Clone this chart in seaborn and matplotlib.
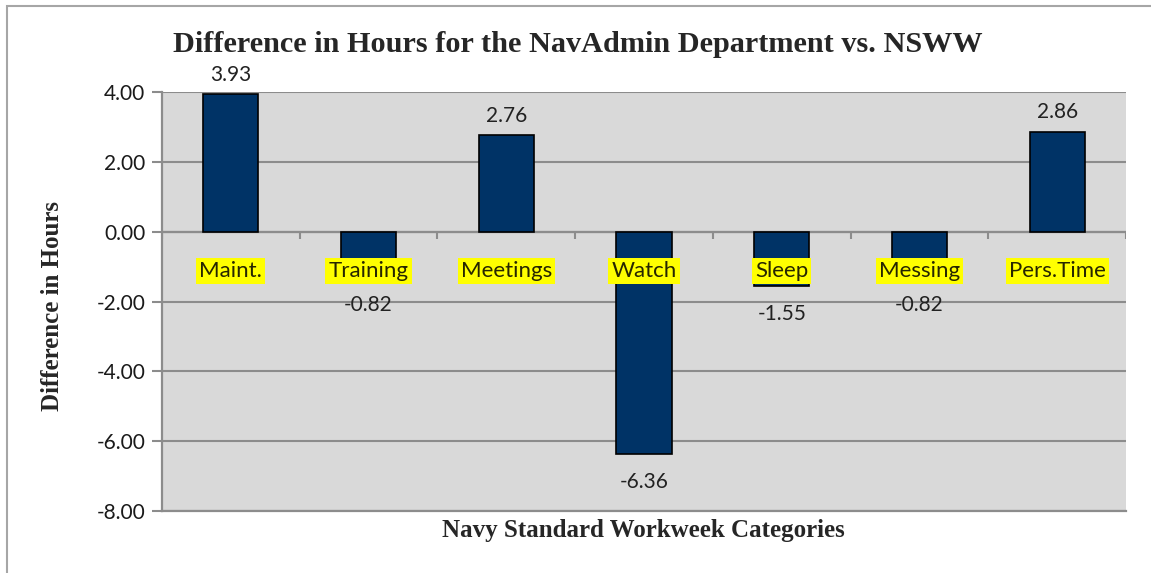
import numpy as np
import pandas as pd
import matplotlib
matplotlib.use("Agg")
import matplotlib.pyplot as plt
from matplotlib.patches import Rectangle
import seaborn as sns

categories = ['Maint.', 'Training', 'Meetings', 'Watch', 'Sleep', 'Messing', 'Pers.Time']
diff_hours = [3.93, -0.82, 2.76, -6.36, -1.55, -0.82, 2.86]
y_ticks = [4, 2, 0, -2, -4, -6, -8]

TITLE = 'Difference in Hours for the NavAdmin Department vs. NSWW'
XLABEL = 'Navy Standard Workweek Categories'
YLABEL = 'Difference in Hours'

NAVY = '#003366'
PLOT_BG = '#d9d9d9'
GRID = '#8c8c8c'
SERIF = 'Liberation Serif'
SANS = 'Lato'

sns.set_theme(style='white')
plt.rcParams['font.family'] = [SANS, 'DejaVu Sans']

df = pd.DataFrame({'category': categories, 'hours': diff_hours})

fig = plt.figure(figsize=(11.51, 5.73), dpi=100)
ax = fig.add_axes([162 / 1151, 1 - 511 / 573, (1126 - 162) / 1151, (511 - 92) / 573])
ax.set_facecolor(PLOT_BG)

sns.barplot(data=df, x='category', y='hours', color=NAVY, width=0.4,
            edgecolor='black', linewidth=1.2, saturation=1, ax=ax, zorder=3)

ax.set_xlim(-0.5, len(categories) - 0.5)
ax.set_ylim(min(y_ticks), max(y_ticks))
ax.set_yticks(y_ticks)
ax.set_yticklabels([f'{t:.2f}' for t in y_ticks], fontsize=15, color='#1a1a1a')
ax.tick_params(axis='y', length=7, width=1.5, color=GRID, pad=5, left=True)
ax.set_xticks([])
ax.set_xlabel('')
ax.set_ylabel('')
ax.yaxis.grid(True, color=GRID, linewidth=1.5, zorder=1)
ax.set_axisbelow(True)

for side in ['top', 'right']:
    ax.spines[side].set_visible(False)
for side in ['left', 'bottom']:
    ax.spines[side].set_color(GRID)
    ax.spines[side].set_linewidth(1.6)

# category tick marks hanging off the zero line
bounds = np.arange(len(categories) + 1) - 0.5
ax.vlines(bounds, -0.2, 0, color=GRID, linewidth=1.5, zorder=2)
ax.axhline(0, color=GRID, linewidth=1.6, zorder=2)

# category names with yellow highlight, just below zero
for i, name in enumerate(categories):
    ax.annotate(name, (i, 0), xytext=(0, -28.5), textcoords='offset points',
                ha='center', va='center', fontsize=16, color='#262600', zorder=5,
                bbox=dict(boxstyle='square,pad=0.14', fc='yellow', ec='none'))

# value labels
for i, v in enumerate(diff_hours):
    if v >= 0:
        ax.annotate(f'{v:.2f}', (i, v), xytext=(0, 14), textcoords='offset points',
                    ha='center', va='center', fontsize=15, color='#222222', zorder=5)
    else:
        ax.annotate(f'{v:.2f}', (i, min(v, -1.3)), xytext=(0, -20),
                    textcoords='offset points', ha='center', va='center',
                    fontsize=15, color='#222222', zorder=5)

fig.text(578 / 1151, 1 - 45 / 573, TITLE, ha='center', va='center',
         fontsize=21.8, fontweight='bold', family=SERIF)
fig.text(643 / 1151, 1 - 531 / 573, XLABEL, ha='center', va='center',
         fontsize=18, fontweight='bold', family=SERIF)
fig.text(53 / 1151, 1 - 306 / 573, YLABEL, ha='center', va='center', rotation=90,
         fontsize=18, fontweight='bold', family=SERIF)

# chart frame
fig.patches.append(Rectangle((7 / 1151, -0.1), 1.2, 1.1 - 6 / 573,
                             transform=fig.transFigure, fill=False,
                             ec='#a6a6a6', lw=1.5))

fig.savefig('out.png', dpi=100)
